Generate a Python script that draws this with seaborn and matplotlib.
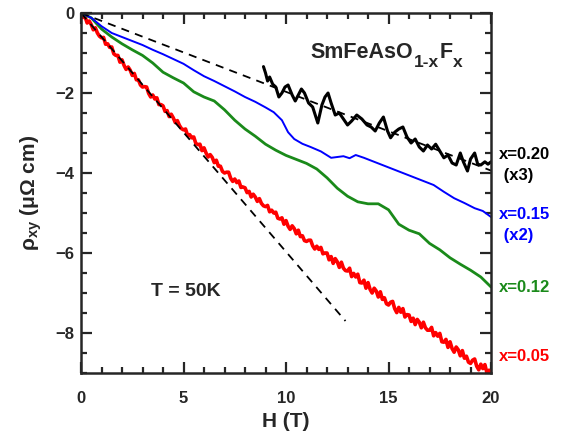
import numpy as np
import pandas as pd
import matplotlib
matplotlib.use("Agg")
import matplotlib.pyplot as plt
import seaborn as sns
from matplotlib.ticker import MultipleLocator

# =========================
# DATA
# =========================
# x = 0.05, H sampled every 0.1 T (noisy trace)
h_005 = [round(0.1 * i, 1) for i in range(201)]
rho_005 = [0.00, -0.11, -0.10, -0.25, -0.20, -0.29, -0.42, -0.37, -0.50, -0.58,
           -0.62, -0.61, -0.78, -0.77, -0.86, -0.85, -1.02, -1.06, -1.06, -1.23,
           -1.17, -1.31, -1.41, -1.35, -1.43, -1.56, -1.51, -1.67, -1.67, -1.80,
           -1.85, -1.84, -1.85, -2.01, -2.10, -2.05, -2.15, -2.12, -2.29, -2.29,
           -2.32, -2.46, -2.44, -2.59, -2.53, -2.62, -2.74, -2.69, -2.81, -2.89,
           -2.92, -2.90, -3.06, -3.04, -3.12, -3.10, -3.26, -3.29, -3.28, -3.44,
           -3.37, -3.50, -3.60, -3.54, -3.61, -3.74, -3.68, -3.83, -3.83, -3.96,
           -4.00, -3.98, -3.98, -4.13, -4.21, -4.15, -4.24, -4.20, -4.36, -4.35,
           -4.37, -4.49, -4.46, -4.60, -4.53, -4.60, -4.71, -4.64, -4.76, -4.82,
           -4.84, -4.81, -4.97, -4.93, -5.00, -4.98, -5.13, -5.15, -5.12, -5.28,
           -5.19, -5.33, -5.41, -5.32, -5.39, -5.52, -5.43, -5.59, -5.57, -5.69,
           -5.71, -5.68, -5.68, -5.82, -5.90, -5.83, -5.91, -5.86, -6.02, -6.00,
           -6.00, -6.17, -6.09, -6.26, -6.14, -6.22, -6.36, -6.23, -6.38, -6.44,
           -6.45, -6.38, -6.59, -6.51, -6.60, -6.53, -6.74, -6.75, -6.68, -6.88,
           -6.74, -6.91, -7.00, -6.88, -6.95, -7.10, -6.97, -7.16, -7.12, -7.27,
           -7.30, -7.23, -7.21, -7.39, -7.49, -7.36, -7.48, -7.39, -7.60, -7.54,
           -7.55, -7.71, -7.63, -7.79, -7.66, -7.73, -7.87, -7.73, -7.87, -7.93,
           -7.93, -7.86, -8.07, -7.99, -8.08, -8.01, -8.22, -8.23, -8.16, -8.36,
           -8.22, -8.39, -8.48, -8.35, -8.42, -8.57, -8.44, -8.63, -8.58, -8.73,
           -8.76, -8.68, -8.65, -8.83, -8.92, -8.78, -8.89, -8.79, -9.00, -8.93,
           -9.02]

# x = 0.12
h_012 = [0, 0.5, 1, 1.5, 2, 2.5, 3, 3.5, 4, 4.5, 5, 5.5, 6, 6.5, 7, 7.5, 8, 8.5,
         9, 9.5, 10, 10.5, 11, 11.5, 12, 12.5, 13, 13.5, 14, 14.5, 15, 15.5, 16,
         16.5, 17, 17.5, 18, 18.5, 19, 19.5, 20]
rho_012 = [0, -0.12, -0.40, -0.60, -0.77, -0.92, -1.06, -1.25, -1.48, -1.62,
           -1.75, -1.97, -2.10, -2.20, -2.42, -2.68, -2.90, -3.08, -3.28, -3.43,
           -3.56, -3.66, -3.76, -3.90, -4.12, -4.38, -4.58, -4.72, -4.77, -4.77,
           -4.92, -5.28, -5.43, -5.52, -5.76, -5.92, -6.12, -6.28, -6.43, -6.60,
           -6.85]

# x = 0.15 (x2)
h_015 = [0, 0.5, 1, 1.5, 2, 2.5, 3, 3.5, 4, 4.5, 5, 5.5, 6, 6.5, 7, 7.5, 8, 8.5,
         9, 9.4, 9.8, 10.1, 10.4, 10.8, 11.2, 11.7, 12.2, 12.5, 12.8, 13.1, 13.4,
         13.8, 14.2, 14.7, 15.2, 15.7, 16.2, 16.7, 17.2, 17.7, 18.2, 18.7, 19.2,
         19.6, 20]
rho_015 = [0, -0.12, -0.33, -0.50, -0.60, -0.70, -0.80, -0.92, -1.03, -1.15,
           -1.27, -1.43, -1.58, -1.70, -1.83, -1.96, -2.10, -2.22, -2.36, -2.48,
           -2.68, -2.98, -3.15, -3.27, -3.35, -3.46, -3.62, -3.60, -3.58, -3.63,
           -3.55, -3.62, -3.70, -3.80, -3.90, -4.00, -4.10, -4.20, -4.30, -4.47,
           -4.63, -4.75, -4.88, -4.95, -5.10]

# x = 0.20 (x3)
h_020 = [8.9, 9.0, 9.1, 9.2, 9.35, 9.5, 9.65, 9.8, 9.95, 10.1, 10.3, 10.45,
         10.6, 10.75, 10.9, 11.1, 11.3, 11.55, 11.75, 11.9, 12.05, 12.2, 12.4,
         12.6, 12.8, 13.0, 13.2, 13.45, 13.7, 13.95, 14.15, 14.35, 14.55, 14.75,
         14.95, 15.1, 15.3, 15.5, 15.7, 15.9, 16.1, 16.3, 16.5, 16.7, 16.9, 17.1,
         17.3, 17.5, 17.7, 17.9, 18.1, 18.3, 18.5, 18.65, 18.85, 19.0, 19.2,
         19.35, 19.5, 19.7, 19.85, 20.0]
rho_020 = [-1.34, -1.50, -1.70, -1.60, -1.78, -1.85, -2.10, -2.00, -1.85, -1.80,
           -2.05, -2.20, -2.05, -1.90, -2.00, -2.25, -2.35, -2.75, -2.30, -2.10,
           -2.00, -2.25, -2.55, -2.50, -2.65, -2.80, -2.70, -2.55, -2.65, -2.80,
           -2.85, -2.95, -2.75, -2.60, -2.95, -3.12, -2.98, -2.90, -2.85, -3.10,
           -3.25, -3.15, -3.35, -3.45, -3.30, -3.40, -3.28, -3.45, -3.62, -3.55,
           -3.75, -3.80, -3.50, -3.72, -3.95, -3.65, -3.50, -3.78, -3.80, -3.72,
           -3.78, -3.72]

# dashed guide lines
h_dash_a = [0, 20]
rho_dash_a = [0, -3.94]
h_dash_b = [0, 12.9]
rho_dash_b = [0, -7.7]

labels = ["x=0.20\n (x3)", "x=0.15\n (x2)", "x=0.12", "x=0.05"]
label_y = [-3.8, -5.3, -6.85, -8.6]
colors = ["black", "#0000ff", "#1a8a1a", "#ff0000"]

# =========================
# STYLE
# =========================
sns.set_style("ticks")
plt.rcParams["font.family"] = ["Liberation Sans", "DejaVu Sans"]
plt.rcParams["font.weight"] = "bold"
plt.rcParams["mathtext.fontset"] = "custom"
plt.rcParams["mathtext.rm"] = "Liberation Sans"
plt.rcParams["mathtext.bf"] = "Liberation Sans:bold"
plt.rcParams["mathtext.it"] = "Liberation Sans:italic"

fig = plt.figure(figsize=(5.79, 4.41), dpi=100)
ax = fig.add_axes([0.1399, 0.1542, 0.7082, 0.8163])

# =========================
# PLOT
# =========================
sns.lineplot(x=h_005, y=rho_005, color=colors[3], lw=2.6, ax=ax, estimator=None)
sns.lineplot(x=h_012, y=rho_012, color=colors[2], lw=2.0, ax=ax, estimator=None)
sns.lineplot(x=h_015, y=rho_015, color=colors[1], lw=1.4, ax=ax, estimator=None)
sns.lineplot(x=h_dash_a, y=rho_dash_a, color="black", lw=1.3, ax=ax,
             estimator=None, linestyle=(0, (4.5, 3.5)))
sns.lineplot(x=h_dash_b, y=rho_dash_b, color="black", lw=1.3, ax=ax,
             estimator=None, linestyle=(0, (4.5, 3.5)))
sns.lineplot(x=h_020, y=rho_020, color=colors[0], lw=2.2, ax=ax, estimator=None)

ax.set_xlim(0, 20)
ax.set_ylim(-9, 0)
ax.xaxis.set_major_locator(MultipleLocator(5))
ax.xaxis.set_minor_locator(MultipleLocator(1))
ax.yaxis.set_major_locator(MultipleLocator(2))
ax.yaxis.set_minor_locator(MultipleLocator(0.5))
ax.tick_params(which="both", direction="in", top=True, right=True, width=1.6,
               labelsize=12)
ax.tick_params(which="major", length=8)
ax.tick_params(which="minor", length=4.5)
ax.tick_params(axis="x", which="major", pad=13)
ax.tick_params(axis="y", which="major", pad=5)
for sp in ax.spines.values():
    sp.set_linewidth(1.8)
    sp.set_visible(True)

ax.set_xlabel("H (T)", fontsize=15, fontweight="bold", labelpad=4)
ax.set_ylabel(r"$\mathregular{\rho}_{\mathbf{xy}}$ ($\mathregular{\mu\Omega}$ cm)",
              fontsize=15, fontweight="bold", labelpad=8)

# compound name with hand-placed subscripts
t_main = ax.text(11.2, -1.12, "SmFeAsO", fontsize=15.5, fontweight="bold",
                 ha="left", va="baseline")
t_sub1 = ax.annotate("1-x", xy=(1, 0), xycoords=t_main, xytext=(0.5, -5.5),
                     textcoords="offset points", fontsize=12.5,
                     fontweight="bold", ha="left", va="bottom")
t_f = ax.annotate("F", xy=(1, 0), xycoords=t_sub1, xytext=(0.3, 5.5),
                  textcoords="offset points", fontsize=15.5,
                  fontweight="bold", ha="left", va="bottom")
ax.annotate("x", xy=(1, 0), xycoords=t_f, xytext=(0.3, -5.5),
            textcoords="offset points", fontsize=12.5,
            fontweight="bold", ha="left", va="bottom")

ax.text(3.4, -6.97, "T = 50K", fontsize=14, fontweight="bold", va="center")

for lab, yy, c in zip(labels, label_y, colors):
    ax.text(20.4, yy, lab, fontsize=12, fontweight="bold", color=c,
            va="center", ha="left", linespacing=1.5, clip_on=False)

fig.savefig("out.png", dpi=100)
